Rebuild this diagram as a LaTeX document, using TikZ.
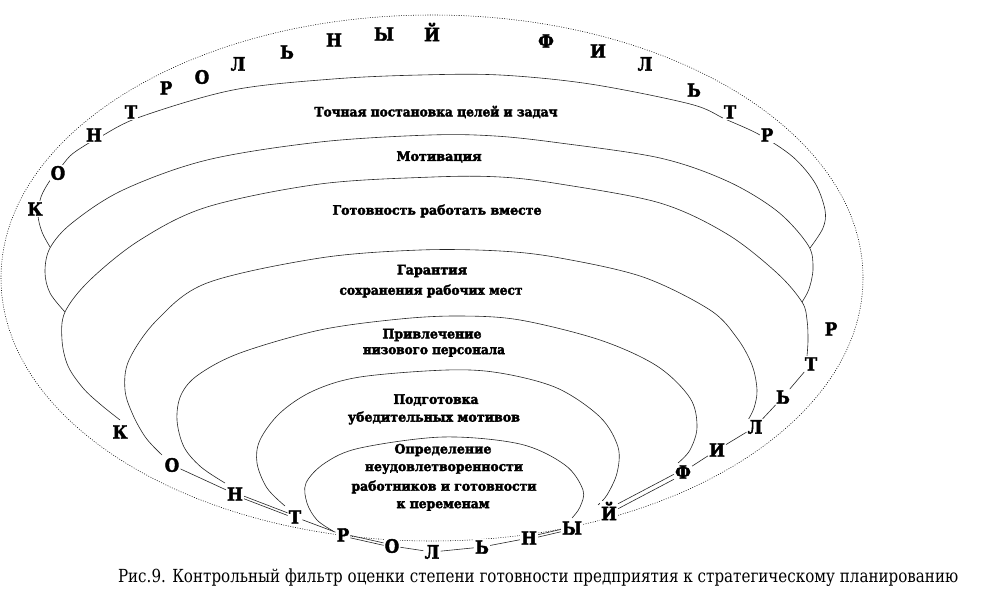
\documentclass[tikz,border=0pt]{standalone}
\usepackage{fontspec}
\setmainfont{DejaVu Serif Condensed}
\newfontfamily\heavy{DejaVu Serif Condensed}[BoldFeatures={FakeBold=2.2}]
\newfontfamily\heavylbl{DejaVu Serif Condensed}[BoldFeatures={FakeBold=2.6}]
\usepackage{graphicx}
\begin{document}
\begin{tikzpicture}[x=1pt,y=-1pt,
  curve/.style={line width=0.6pt, black!85},
  outerline/.style={line width=0.55pt, black, dash pattern=on 0.9pt off 1.5pt},
  bigl/.style={font=\heavy\bfseries\fontsize{18.5}{18.5}\selectfont, fill=white, inner sep=1pt},
  lbl/.style={font=\heavylbl\bfseries\fontsize{13}{13}\selectfont, inner sep=0pt},
  link/.style={line width=0.6pt, black!85}]
\useasboundingbox (0,0) rectangle (992,604);

% outer dotted ellipse
\draw[outerline] (432,278) ellipse [x radius=431pt, y radius=263pt];

% nested curves
\draw[curve] plot[smooth, tension=0.55] coordinates {(50,247) (42,232) (38,215) (41,197) (49,182) (58,171) (70,156) (84,146) (100,137) (140,117) (233,90) (333,79) (420,75) (500,75) (590,84) (690,104) (725,119) (760,135) (793,157) (815,183) (825,210) (823,228) (810,248)};
\draw[curve] plot[smooth, tension=0.55] coordinates {(65,312) (50,293) (45,272) (50,248) (72,223) (123,190) (207,160) (320,142) (430,135) (495,136) (560,143) (660,158) (727,181) (777,211) (808,245) (813,268) (809,289) (802,302)};
\draw[curve] plot[smooth, tension=0.55] coordinates {(120,420) (100,404) (83,388) (68,366) (62,340) (65,312) (90,280) (140,240) (207,207) (320,184) (433,177) (500,177) (560,184) (660,203) (727,234) (777,273) (802,302) (807,320) (808,340) (807,356)};
\draw[curve] plot[smooth, tension=0.55] coordinates {(162,455) (146,438) (133,415) (125,390) (129,360) (157,320) (207,283) (320,258) (420,250) (500,251) (560,258) (643,277) (710,310) (737,338) (752,365) (757,390) (754,408) (748,420)};
\draw[curve] plot[smooth, tension=0.55] coordinates {(225,483) (201,467) (184,447) (177,420) (181,395) (198,375) (240,353) (320,330) (400,319) (460,316) (520,320) (600,340) (657,366) (690,398) (697,427) (690,450) (678,463)};
\draw[curve] plot[smooth, tension=0.55] coordinates {(285,506) (267,488) (257,463) (260,440) (280,413) (313,391) (360,377) (447,370) (500,373) (557,388) (600,417) (618,447) (617,473) (607,495) (598,505)};
\draw[curve] plot[smooth, tension=0.55] coordinates {(333,531) (317,520) (307,503) (306,483) (325,463) (360,448) (443,437) (520,444) (565,465) (583,490) (580,507) (572,518)};

% top letters
\node[bigl] (t1) at (35,209) {К};
\node[bigl] (t2) at (58,173) {О};
\node[bigl] (t3) at (94,135) {Н};
\node[bigl] (t4) at (131,112) {Т};
\node[bigl] (t5) at (166,88) {Р};
\node[bigl] (t6) at (202,77) {О};
\node[bigl] (t7) at (238,64) {Л};
\node[bigl] (t8) at (287,52) {Ь};
\node[bigl] (t9) at (334,40) {Н};
\node[bigl] (t10) at (384,34) {Ы};
\node[bigl] (t11) at (432,32) {Й};
\node[bigl] (t12) at (546,41) {Ф};
\node[bigl] (t13) at (598,51) {И};
\node[bigl] (t14) at (645,64) {Л};
\node[bigl] (t15) at (694,90) {Ь};
\node[bigl] (t16) at (730,112) {Т};
\node[bigl] (t17) at (767,135) {Р};

% bottom letters
\node[bigl] (b1) at (120,432) {К};
\node[bigl] (b2) at (172,465) {О};
\node[bigl] (b3) at (235,494) {Н};
\node[bigl] (b4) at (295,517) {Т};
\node[bigl] (b5) at (343,535) {Р};
\node[bigl] (b6) at (392,546) {О};
\node[bigl] (b7) at (432,552) {Л};
\node[bigl] (b8) at (482,547) {Ь};
\node[bigl] (b9) at (529,538) {Н};
\node[bigl] (b10) at (572,528) {Ы};
\node[bigl] (b11) at (609,511) {Й};
% right letters
\node[bigl] (r1) at (683,472) {Ф};
\node[bigl] (r2) at (717,450) {И};
\node[bigl] (r3) at (755,427) {Л};
\node[bigl] (r4) at (783,397) {Ь};
\node[bigl] (r5) at (811,364) {Т};
\node[bigl] (r6) at (831,329) {Р};

% bundle links
\draw[link] (b2) -- (b3);
\draw[link, transform canvas={yshift=1.3pt}] (b3) -- (b4);
\draw[link, transform canvas={yshift=-1.3pt}] (b3) -- (b4);
\draw[link] (b4) -- (b5);
\draw[link, transform canvas={yshift=1.2pt}] (b5) -- (b6);
\draw[link, transform canvas={yshift=-1.2pt}] (b5) -- (b6);
\draw[link] (b6) -- (b7);
\draw[link] (b7) -- (b8);
\draw[link] (b8) -- (b9);
\draw[link, transform canvas={yshift=1.2pt}] (b9) -- (b10);
\draw[link, transform canvas={yshift=-1.2pt}] (b9) -- (b10);
\draw[link, transform canvas={yshift=2.5pt}] (b11) -- (r1);
\draw[link, transform canvas={yshift=-2.5pt}] (b11) -- (r1);
\draw[link] (r1) -- (r2);
\draw[link] (r2) -- (r3);
\draw[link] (r3) -- (r4);
\draw[link] (r4) -- (r5);

% labels
\node[lbl] (l1) at (436,112) {\resizebox{243pt}{\height}{Точная постановка целей и задач}};
\node[lbl] (l2) at (439,157) {\resizebox{85pt}{\height}{Мотивация}};
\node[lbl] (l3) at (437,211) {\resizebox{209pt}{\height}{Готовность работать вместе}};
\node[lbl] (l4a) at (432,271) {\resizebox{70pt}{\height}{Гарантия}};
\node[lbl] (l4b) at (431,291) {\resizebox{183pt}{\height}{сохранения рабочих  мест}};
\node[lbl] (l5a) at (432,335) {\resizebox{99pt}{\height}{Привлечение}};
\node[lbl] (l5b) at (434,352) {\resizebox{142pt}{\height}{низового персонала}};
\node[lbl] (l6a) at (436,400) {\resizebox{85pt}{\height}{Подготовка}};
\node[lbl] (l6b) at (434,418) {\resizebox{172pt}{\height}{убедительных мотивов}};
\node[lbl] (l7a) at (443,450) {\resizebox{97pt}{\height}{Определение}};
\node[lbl] (l7b) at (444,469) {\resizebox{158pt}{\height}{неудовлетворенности}};
\node[lbl] (l7c) at (444,487) {\resizebox{185pt}{\height}{работников и готовности}};
\node[lbl] (l7d) at (443,506) {\resizebox{93pt}{\height}{к переменам}};

% caption
\node[inner sep=0pt] (cap) at (538,578) {\resizebox{840pt}{\height}{\fontsize{18}{18}\selectfont Рис.9. Контрольный фильтр оценки степени готовности предприятия к стратегическому планированию}};
\end{tikzpicture}
\end{document}
